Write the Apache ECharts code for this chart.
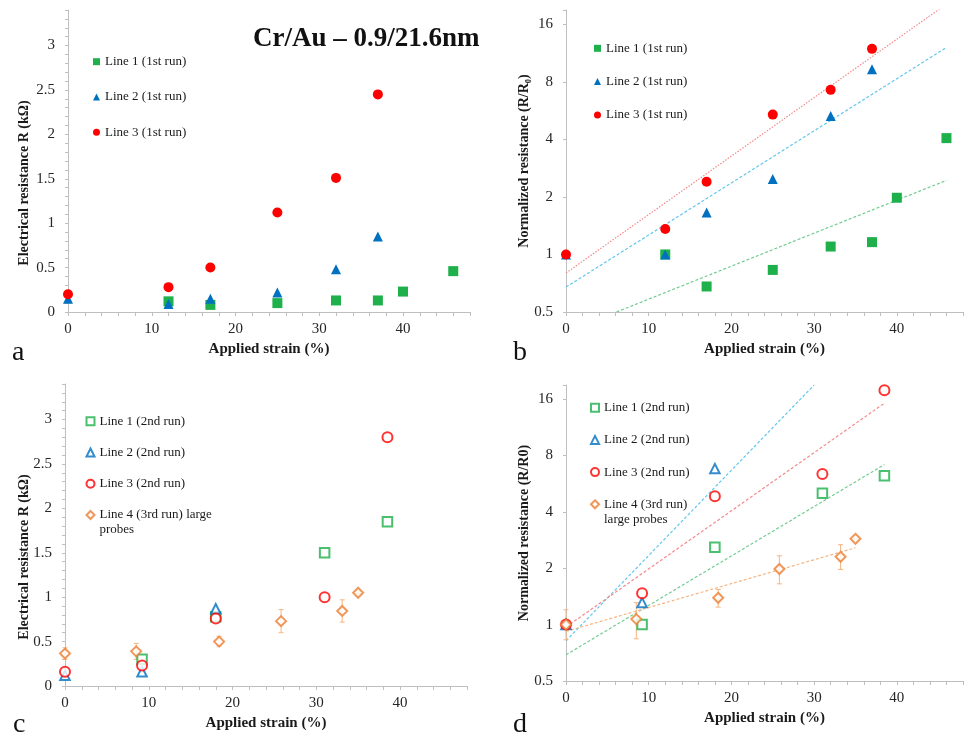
<!DOCTYPE html>
<html><head><meta charset="utf-8">
<script src="https://cdn.jsdelivr.net/npm/echarts@6.0.0/dist/echarts.min.js"></script>
<style>html,body{margin:0;padding:0;background:#fff}#c{width:966px;height:735px}</style>
</head><body><div id="c"></div>
<script>
// ---------- Panel a: 1st run, absolute resistance (kΩ) ----------
const strainA1 = [12, 17, 25, 32, 37, 40, 46];
const resA1    = [0.12, 0.08, 0.10, 0.13, 0.13, 0.23, 0.46];
const strainA2 = [0, 12, 17, 25, 32, 37];
const resA2    = [0.15, 0.09, 0.15, 0.22, 0.48, 0.85];
const strainA3 = [0, 12, 17, 25, 32, 37];
const resA3    = [0.20, 0.28, 0.50, 1.12, 1.51, 2.45];

// ---------- Panel b: 1st run, normalized resistance ----------
const strainB1 = [12, 17, 25, 32, 37, 40, 46];
const normB1   = [1.0, 0.68, 0.83, 1.10, 1.16, 1.98, 4.06];
const strainB2 = [0, 12, 17, 25, 32, 37];
const normB2   = [1.0, 1.0, 1.66, 2.48, 5.3, 9.3];
const strainB3 = [0, 12, 17, 25, 32, 37];
const normB3   = [1.0, 1.36, 2.4, 5.39, 7.26, 11.9];
// exponential trend lines (end points)
const trendB1X = [6.1, 46];  const trendB1Y = [0.5, 2.44];
const trendB2X = [0, 46];    const trendB2Y = [0.675, 12.1];
const trendB3X = [0, 46];    const trendB3Y = [0.80, 20.4];

// ---------- Panel c: 2nd / 3rd run, absolute resistance ----------
const strainC1 = [9.2, 18, 31, 38.5];
const resC1    = [0.30, 0.78, 1.50, 1.85];
const strainC2 = [0, 9.2, 18];
const resC2    = [0.12, 0.16, 0.87];
const strainC3 = [0, 9.2, 18, 31, 38.5];
const resC3    = [0.16, 0.23, 0.76, 1.00, 2.80];
const strainC4 = [0, 8.5, 18.4, 25.8, 33.1, 35.0];
const resC4    = [0.365, 0.39, 0.50, 0.73, 0.845, 1.05];
const errC4Lo  = [0.30, 0.30, 0.45, 0.60, 0.72, 1.04];
const errC4Hi  = [0.43, 0.48, 0.56, 0.86, 0.97, 1.06];

// ---------- Panel d: 2nd / 3rd run, normalized resistance ----------
const strainD1 = [9.2, 18, 31, 38.5];
const normD1   = [1.0, 2.59, 5.02, 6.22];
const strainD2 = [0, 9.2, 18];
const normD2   = [1.0, 1.31, 6.8];
const strainD3 = [0, 9.2, 18, 31, 38.5];
const normD3   = [1.0, 1.47, 4.84, 6.37, 17.8];
const strainD4 = [0, 8.5, 18.4, 25.8, 33.2, 35.0];
const normD4   = [1.0, 1.07, 1.39, 1.98, 2.30, 2.87];
const errD4Lo  = [0.83, 0.84, 1.24, 1.65, 1.97, 2.86];
const errD4Hi  = [1.20, 1.31, 1.54, 2.33, 2.67, 2.88];
const trendD1X = [0, 38.5]; const trendD1Y = [0.69, 7.15];
const trendD2X = [0, 30];   const trendD2Y = [0.82, 19];
const trendD3X = [0, 38.5]; const trendD3Y = [0.97, 15.2];
const trendD4X = [0, 35];   const trendD4Y = [0.92, 2.57];

// ---------- names / labels ----------
const xName = 'Applied strain (%)';
const yNameA = 'Electrical resistance R (kΩ)';
const yNameB = 'Normalized resistance (R/R₀)';
const yNameC = 'Electrical resistance R (kΩ)';
const yNameD = 'Normalized resistance (R/R0)';
const titleText = 'Cr/Au – 0.9/21.6nm';
const run1 = ['Line 1 (1st run)', 'Line 2 (1st run)', 'Line 3 (1st run)'];
const run2 = ['Line 1 (2nd run)', 'Line 2 (2nd run)', 'Line 3 (2nd run)'];
const line4C = 'Line 4 (3rd run) large probes';
const line4D = 'Line 4 (3rd run) large probes ';

const F = "'Liberation Serif','Times New Roman',serif";
const GREEN = '#1DB04B', BLUE = '#0070C0', RED = '#FF0000', ORANGE = '#ED7D31';
const TGREEN = '#72CC92', TBLUE = '#62C6EE', TRED = '#F38A8A', TORANGE = '#F5B582';

const pairs = (xs, ys) => xs.map((x, i) => [x, ys[i]]);
const triples = (xs, lo, hi) => xs.map((x, i) => [x, lo[i], hi[i]]);

const axisGray = '#bfbfbf';
function xAx(gi, max) {
  return {
    type: 'value', gridIndex: gi, min: 0, max: max, interval: 2,
    name: xName, nameLocation: 'middle', nameGap: 30,
    nameTextStyle: { fontFamily: F, fontSize: 15, fontWeight: 'bold', color: '#1a1a1a' },
    axisLine: { show: true, lineStyle: { color: axisGray } },
    axisTick: { show: true, length: 4, lineStyle: { color: axisGray } },
    axisLabel: { margin: 10, fontFamily: F, fontSize: 15, color: '#262626',
      formatter: v => (Math.round(v) % 10 === 0 ? String(Math.round(v)) : '') },
    splitLine: { show: false }
  };
}
function yLin(gi) {
  return {
    type: 'value', gridIndex: gi, min: 0, max: 3.4, interval: 0.1,
    axisLine: { show: true, lineStyle: { color: axisGray } },
    axisTick: { show: true, length: 3, lineStyle: { color: axisGray } },
    axisLabel: { margin: 13, fontFamily: F, fontSize: 15, color: '#262626',
      formatter: v => { const t = Math.round(v * 10); return t % 5 === 0 ? String(t / 10) : ''; } },
    splitLine: { show: false }
  };
}
function yLog(gi) {
  return {
    type: 'log', logBase: 2, gridIndex: gi, min: 0.5, max: 19,
    axisLine: { show: true, lineStyle: { color: axisGray } },
    axisTick: { show: true, length: 3, lineStyle: { color: axisGray } },
    axisLabel: { margin: 13, fontFamily: F, fontSize: 15, color: '#262626',
      formatter: v => { const l = Math.log2(v); return Math.abs(l - Math.round(l)) < 1e-6 ? String(+v.toPrecision(6)) : ''; } },
    splitLine: { show: false }, minorTick: { show: false }
  };
}
function sc(gi, name, data, symbol, color, size, empty) {
  return {
    type: 'scatter', name: name, xAxisIndex: gi, yAxisIndex: gi, data: data,
    symbol: symbol, symbolSize: size, z: 3,
    itemStyle: empty ? { color: color, borderColor: color, borderWidth: 1.7 } : { color: color, opacity: 1 },
    emphasis: { disabled: true }
  };
}
function trend(gi, name, data, color, dash) {
  return {
    type: 'line', name: name, xAxisIndex: gi, yAxisIndex: gi, data: data,
    symbol: 'none', showSymbol: false, clip: true, silent: true, z: 1,
    lineStyle: { color: color, width: 1.2, type: dash }
  };
}
function errRender(color) {
  return function (params, api) {
    const x = api.value(0), lo = api.value(1), hi = api.value(2);
    const p1 = api.coord([x, lo]), p2 = api.coord([x, hi]);
    const w = 2.5, st = { stroke: color, lineWidth: 1 };
    return { type: 'group', children: [
      { type: 'line', shape: { x1: p1[0], y1: p1[1], x2: p2[0], y2: p2[1] }, style: st },
      { type: 'line', shape: { x1: p1[0] - w, y1: p1[1], x2: p1[0] + w, y2: p1[1] }, style: st },
      { type: 'line', shape: { x1: p2[0] - w, y1: p2[1], x2: p2[0] + w, y2: p2[1] }, style: st }
    ] };
  };
}
function errSeries(gi, data, color) {
  return { type: 'custom', name: 'err' + gi, xAxisIndex: gi, yAxisIndex: gi, data: data,
    renderItem: errRender(color), z: 2, silent: true };
}
function leg(left, top, gap, size, lh, data, extra) {
  return Object.assign({
    orient: 'vertical', left: left, top: top, padding: 0, itemGap: gap,
    itemWidth: size, itemHeight: size, selectedMode: false, data: data,
    textStyle: { fontFamily: F, fontSize: 13, color: '#1a1a1a', lineHeight: lh }
  }, extra || {});
}
function rotText(x, y, text) {
  return { type: 'text', x: x, y: y, rotation: Math.PI / 2,
    style: { text: text, font: 'bold 14px ' + F, fill: '#1a1a1a', align: 'center', verticalAlign: 'middle' } };
}
function plainText(x, y, text, font, align) {
  return { type: 'text', x: x, y: y,
    style: { text: text, font: font, fill: '#111', align: align || 'left', verticalAlign: 'middle' } };
}

const option = {
  animation: false,
  backgroundColor: '#fff',
  grid: [
    { left: 68, top: 10, width: 402, height: 302 },
    { left: 566, top: 10, width: 404, height: 302 },
    { left: 65, top: 384, width: 402, height: 302 },
    { left: 566, top: 385, width: 399, height: 296 }
  ],
  xAxis: [xAx(0, 48), xAx(1, 48), xAx(2, 48), xAx(3, 48)],
  yAxis: [yLin(0), yLog(1), yLin(2), yLog(3)],
  legend: [
    leg(93, 53.7, 19.3, 7, 16, run1),
    leg(594, 40.3, 17.3, 7, 16, run1),
    leg(85.5, 413.8, 16.2, 8, 15, run2),
    // the blank first line keeps the icon level with the first text line
    leg(85.5, 492.5, 0, 8, 15, [line4C], { formatter: () => ' \nLine 4 (3rd run) large\nprobes' }),
    leg(590, 400.2, 17.2, 8, 15, run2),
    leg(590, 481.8, 0, 8, 15, [line4D], { formatter: () => ' \nLine 4 (3rd run)\nlarge probes' })
  ],
  series: [
    // a
    sc(0, run1[0], pairs(strainA1, resA1), 'rect', GREEN, 10, false),
    sc(0, run1[1], pairs(strainA2, resA2), 'triangle', BLUE, 10, false),
    sc(0, run1[2], pairs(strainA3, resA3), 'circle', RED, 10, false),
    // b
    trend(1, 'trend b1', pairs(trendB1X, trendB1Y), TGREEN, [3, 2]),
    trend(1, 'trend b2', pairs(trendB2X, trendB2Y), TBLUE, [3, 2]),
    trend(1, 'trend b3', pairs(trendB3X, trendB3Y), TRED, [1.5, 1.5]),
    sc(1, run1[0], pairs(strainB1, normB1), 'rect', GREEN, 10, false),
    sc(1, run1[1], pairs(strainB2, normB2), 'triangle', BLUE, 10, false),
    sc(1, run1[2], pairs(strainB3, normB3), 'circle', RED, 10, false),
    // c
    errSeries(2, triples(strainC4, errC4Lo, errC4Hi), TORANGE),
    sc(2, run2[0], pairs(strainC1, resC1), 'emptyRect', GREEN, 9.5, true),
    sc(2, run2[1], pairs(strainC2, resC2), 'emptyTriangle', BLUE, 9.5, true),
    sc(2, run2[2], pairs(strainC3, resC3), 'emptyCircle', RED, 10, true),
    sc(2, line4C, pairs(strainC4, resC4), 'emptyDiamond', ORANGE, 10, true),
    // d
    trend(3, 'trend d1', pairs(trendD1X, trendD1Y), TGREEN, [3, 2]),
    trend(3, 'trend d2', pairs(trendD2X, trendD2Y), TBLUE, [3, 2]),
    trend(3, 'trend d3', pairs(trendD3X, trendD3Y), TRED, [3, 2]),
    trend(3, 'trend d4', pairs(trendD4X, trendD4Y), TORANGE, [3, 2]),
    errSeries(3, triples(strainD4, errD4Lo, errD4Hi), TORANGE),
    sc(3, run2[0], pairs(strainD1, normD1), 'emptyRect', GREEN, 9.5, true),
    sc(3, run2[1], pairs(strainD2, normD2), 'emptyTriangle', BLUE, 9.5, true),
    sc(3, run2[2], pairs(strainD3, normD3), 'emptyCircle', RED, 10, true),
    sc(3, line4D, pairs(strainD4, normD4), 'emptyDiamond', ORANGE, 10, true)
  ],
  graphic: [
    rotText(24, 183, yNameA),
    rotText(524, 161, yNameB),
    rotText(24, 557, yNameC),
    rotText(524, 533, yNameD),
    plainText(253, 39, titleText, 'bold 27px ' + F),
    plainText(12, 353, 'a', '28px ' + F),
    plainText(513, 353, 'b', '28px ' + F),
    plainText(13, 725, 'c', '28px ' + F),
    plainText(513, 725, 'd', '28px ' + F)
  ]
};
const chart = echarts.init(document.getElementById('c'), null, { renderer: 'canvas' });
chart.setOption(option);
</script>
</body></html>
